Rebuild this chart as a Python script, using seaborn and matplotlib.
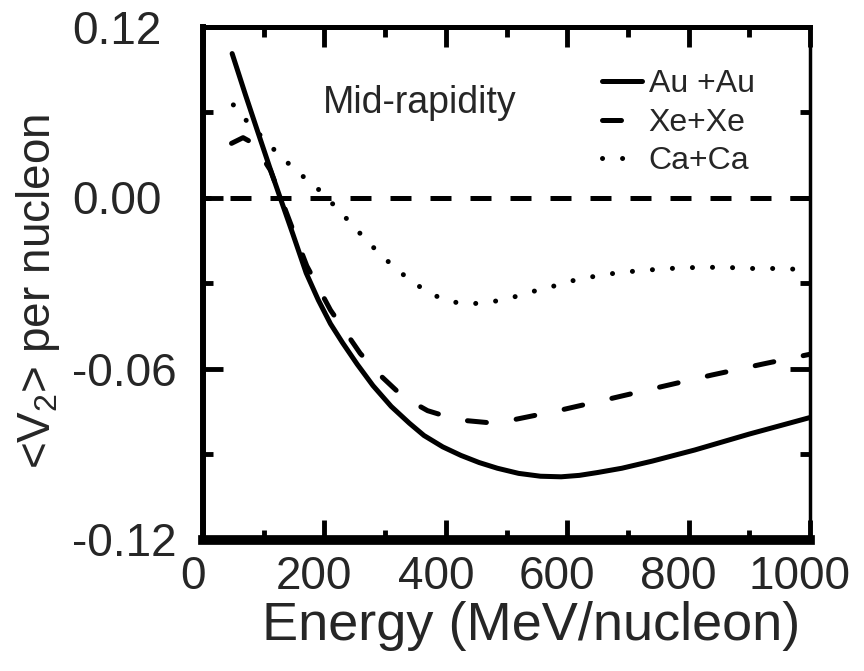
import pandas as pd
import seaborn as sns
import matplotlib.pyplot as plt
from matplotlib.ticker import MultipleLocator
from matplotlib.transforms import ScaledTranslation

# <V2> per nucleon vs beam energy
au_energy = [48, 70, 90, 110, 127, 148, 170, 190, 210, 230, 254, 280, 310, 340, 364, 395, 425, 455,
             485, 520, 556, 590, 620, 650, 690, 740, 810, 900, 1000]
au_v2 = [0.0505, 0.036, 0.0232, 0.0105, 0.0, -0.0128, -0.0265, -0.036, -0.0443, -0.051, -0.0585, -0.066,
         -0.0733, -0.0792, -0.0835, -0.0875, -0.0905, -0.093, -0.095, -0.0968, -0.0978, -0.098, -0.0975,
         -0.0965, -0.095, -0.0925, -0.0886, -0.083, -0.0772]

xe_energy = [47, 66, 83, 111, 144, 171, 210, 259, 295, 330, 370, 419, 470, 502, 585, 669, 755, 838, 923, 1000]
xe_v2 = [0.019, 0.021, 0.019, 0.0096, -0.009, -0.024, -0.0395, -0.0547, -0.063, -0.070, -0.0748, -0.078,
         -0.079, -0.0784, -0.0748, -0.0707, -0.0664, -0.0623, -0.0584, -0.055]

ca_energy = [50, 73, 127, 157, 190, 219, 246, 272, 302, 334, 367, 400, 434, 467, 502, 535, 570, 602,
             636, 670, 703, 736, 770, 803, 838, 871, 904, 937, 970, 1000]
ca_v2 = [0.0325, 0.0266, 0.0146, 0.0088, 0.0029, -0.0034, -0.0096, -0.0157, -0.0219, -0.0278, -0.0328,
         -0.0362, -0.0374, -0.0369, -0.0356, -0.0334, -0.0316, -0.0295, -0.028, -0.0268, -0.026, -0.0254,
         -0.0249, -0.0246, -0.0245, -0.0246, -0.0249, -0.0249, -0.0251, -0.0254]

systems = ["Au +Au", "Xe+Xe", "Ca+Ca"]
ytick_pos = [-0.12, -0.06, 0.0, 0.06]
ytick_labels = ["-0.12", "-0.06", "0.00", "0.12"]

df = pd.concat([
    pd.DataFrame({"Energy": au_energy, "v2": au_v2, "system": systems[0]}),
    pd.DataFrame({"Energy": xe_energy, "v2": xe_v2, "system": systems[1]}),
    pd.DataFrame({"Energy": ca_energy, "v2": ca_v2, "system": systems[2]}),
])

sns.set_style("ticks")
plt.rcParams["font.family"] = ["Liberation Sans", "DejaVu Sans"]
plt.rcParams["mathtext.default"] = "regular"

fig = plt.figure(figsize=(8.64, 6.71), dpi=100)
ax = fig.add_axes([203 / 864, 1 - 539.5 / 671, 607 / 864, 513 / 671])

sns.lineplot(data=df, x="Energy", y="v2", hue="system", style="system",
             palette=["black"] * 3,
             dashes={"Au +Au": "", "Xe+Xe": (3.8, 6), "Ca+Ca": (0.01, 4)},
             estimator=None, sort=False, lw=3.6, dash_capstyle="round",
             solid_capstyle="round", legend=False, ax=ax)

ax.axhline(0, color="black", lw=3.6, ls=(2.6, (4.2, 3.8)), dash_capstyle="butt")

ax.legend(ax.lines[:3], systems, loc="upper left", bbox_to_anchor=(0.658, 0.917),
          frameon=False, fontsize=23, handlelength=1.25, handletextpad=0.2,
          labelspacing=0.27, borderpad=0, borderaxespad=0)

ax.text(198, 0.0296, "Mid-rapidity", fontsize=27, ha="left", va="baseline")

ax.set_xlim(0, 1000)
ax.set_ylim(-0.12, 0.06)
ax.xaxis.set_major_locator(MultipleLocator(200))
ax.xaxis.set_minor_locator(MultipleLocator(100))
ax.set_yticks(ytick_pos)
ax.set_yticklabels(ytick_labels, ha="left")
ax.yaxis.set_minor_locator(MultipleLocator(0.03))

for side, w in [("left", 4.3), ("bottom", 7), ("top", 3.6), ("right", 2.5)]:
    ax.spines[side].set_linewidth(w)
    ax.spines[side].set_color("black")

ax.tick_params(which="both", direction="in", top=True, right=True, width=3.5, color="black")
ax.tick_params(which="major", length=14.5)
ax.tick_params(which="minor", length=7.5)
ax.tick_params(axis="x", which="major", labelsize=33, pad=11)
ax.tick_params(axis="y", which="major", labelsize=33, pad=94)

ax.set_xlabel("Energy (MeV/nucleon)", fontsize=39)
ax.set_ylabel("<V$_2$> per nucleon", fontsize=33)
ax.xaxis.set_label_coords(0.54, -0.12)
ax.yaxis.set_label_coords(-0.233, 0.484)

# the x tick labels sit a little left of their ticks in the original
shift = ScaledTranslation(-7.2 / 72, 0, fig.dpi_scale_trans)
for lbl in ax.get_xticklabels():
    lbl.set_transform(lbl.get_transform() + shift)

fig.savefig("out.png", dpi=100)
